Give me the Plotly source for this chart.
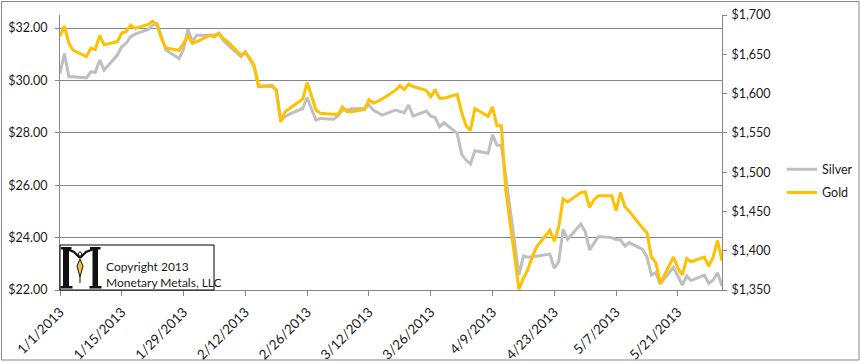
import plotly.graph_objects as go

dates = ["2013-01-01","2013-01-02","2013-01-03","2013-01-04","2013-01-07","2013-01-08","2013-01-09","2013-01-10","2013-01-11",
         "2013-01-14","2013-01-15","2013-01-16","2013-01-17","2013-01-18","2013-01-21","2013-01-22","2013-01-23","2013-01-24","2013-01-25",
         "2013-01-28","2013-01-29","2013-01-30","2013-01-31","2013-02-01","2013-02-04","2013-02-05","2013-02-06","2013-02-07","2013-02-08",
         "2013-02-11","2013-02-12","2013-02-13","2013-02-14","2013-02-15","2013-02-18","2013-02-19","2013-02-20","2013-02-21","2013-02-22",
         "2013-02-25","2013-02-26","2013-02-27","2013-02-28","2013-03-01","2013-03-04","2013-03-05","2013-03-06","2013-03-07","2013-03-08",
         "2013-03-11","2013-03-12","2013-03-13","2013-03-14","2013-03-15","2013-03-18","2013-03-19","2013-03-20","2013-03-21","2013-03-22",
         "2013-03-25","2013-03-26","2013-03-27","2013-03-28","2013-03-29","2013-04-01","2013-04-02","2013-04-03","2013-04-04","2013-04-05",
         "2013-04-08","2013-04-09","2013-04-10","2013-04-11","2013-04-12","2013-04-15","2013-04-16","2013-04-17","2013-04-18","2013-04-19",
         "2013-04-22","2013-04-23","2013-04-24","2013-04-25","2013-04-26","2013-04-29","2013-04-30","2013-05-01","2013-05-02","2013-05-03",
         "2013-05-06","2013-05-07","2013-05-08","2013-05-09","2013-05-10","2013-05-13","2013-05-14","2013-05-15","2013-05-16","2013-05-17",
         "2013-05-20","2013-05-21","2013-05-22","2013-05-23","2013-05-24","2013-05-27","2013-05-28","2013-05-29","2013-05-30","2013-05-31"]

silver = [30.27,31.03,30.14,30.14,30.10,30.33,30.31,30.78,30.40,
          30.97,31.29,31.42,31.67,31.77,31.95,32.11,32.18,31.67,31.16,
          30.84,31.20,31.95,31.48,31.73,31.73,31.73,31.80,31.52,31.36,
          30.91,31.10,30.80,30.52,29.76,29.82,29.63,28.49,28.62,28.72,
          28.93,29.35,28.90,28.49,28.55,28.52,28.65,28.87,28.87,28.92,
          28.93,29.06,28.87,28.77,28.68,28.87,28.81,28.77,29.06,28.64,
          28.83,28.64,28.59,28.23,28.39,27.98,27.19,26.96,26.81,27.32,
          27.22,27.92,27.53,27.53,26.33,22.57,23.30,23.25,23.27,23.30,
          23.37,22.83,23.08,24.32,23.93,24.52,24.23,23.53,23.78,24.04,
          24.00,23.93,23.91,23.68,23.81,23.55,23.27,22.57,22.66,22.23,
          22.87,22.51,22.19,22.53,22.36,22.57,22.25,22.38,22.66,22.15]

gold = [1673,1686,1664,1655,1647,1658,1656,1674,1662,
        1666,1677,1679,1687,1683,1688,1692,1687,1670,1658,
        1655,1664,1674,1664,1666,1674,1672,1677,1670,1666,
        1649,1652,1645,1635,1610,1609,1605,1564,1577,1581,
        1593,1614,1595,1579,1575,1573,1573,1583,1577,1577,
        1580,1592,1588,1590,1593,1604,1610,1605,1612,1609,
        1604,1596,1605,1594,1594,1599,1576,1559,1553,1581,
        1571,1583,1559,1559,1477,1351,1365,1376,1392,1405,
        1426,1412,1430,1466,1462,1474,1475,1455,1465,1470,
        1470,1451,1474,1456,1450,1429,1423,1392,1385,1358,
        1392,1378,1369,1390,1386,1392,1380,1392,1413,1387]

silver_ticks = [22, 24, 26, 28, 30, 32]
gold_ticks = [1350, 1400, 1450, 1500, 1550, 1600, 1650, 1700]

FONT = "Lato"
GRID = "#868686"
TXT = "#1a1a1a"

W, H = 861, 362
L, R, T, B = 60, 139, 15, 72
PW, PH = W - L - R, H - T - B

def px(x):
    return (x - L) / PW

def py(y):
    return (H - B - y) / PH

fig = go.Figure()
fig.add_trace(go.Scatter(x=dates, y=silver, name="Silver", mode="lines",
                         line=dict(color="#BFBFBF", width=3), legendgroup="s"))
fig.add_trace(go.Scatter(x=dates, y=gold, name="Gold", mode="lines", yaxis="y2",
                         line=dict(color="#FFC000", width=3), legendgroup="g"))

shapes = []
# outer chart border
shapes.append(dict(type="rect", xref="paper", yref="paper", x0=px(1.5), x1=px(859), y0=py(360), y1=py(1.5),
                   line=dict(color="#868686", width=1), fillcolor="rgba(0,0,0,0)", layer="below"))
# logo box
shapes.append(dict(type="rect", xref="paper", yref="paper", x0=px(60), x1=px(214), y0=py(290), y1=py(245),
                   line=dict(color="#000000", width=1), fillcolor="#FFFFFF", layer="above"))

def rect(x0, y0, x1, y1, color="#111111"):
    shapes.append(dict(type="rect", xref="paper", yref="paper", x0=px(x0), x1=px(x1), y0=py(y1), y1=py(y0),
                       line=dict(width=0), fillcolor=color, layer="above"))

def path(pts, fill=None, lw=1.5, color="#111111", closed=False):
    d = "M " + " L ".join(f"{px(a):.5f},{py(b):.5f}" for a, b in pts)
    if closed:
        d += " Z"
    shapes.append(dict(type="path", xref="paper", yref="paper", path=d,
                       line=dict(color=color, width=lw),
                       fillcolor=fill if fill else "rgba(0,0,0,0)", layer="above"))

# stylised M logo
rect(63, 249, 69, 287)
rect(61, 247, 71.5, 249.5)
rect(60.5, 286, 72.5, 288.5)
rect(92.5, 249, 98, 287)
rect(90, 247, 100.5, 249.5)
rect(89.5, 286, 101.5, 288.5)
path([(68, 249.5), (74, 252), (78, 256), (80, 258)], lw=2.2)
path([(92.5, 249.5), (86, 252), (82, 256), (80, 258)], lw=2.2)
path([(80, 251.5), (82, 254), (80, 256.5), (78, 254)], closed=True, lw=1)
path([(80, 259), (83, 266), (80, 277), (77, 266)], fill="#F5C342", lw=1, closed=True)
path([(80, 277), (80, 283)], lw=1)

fig.update_layout(
    template="none",
    width=W, height=H,
    margin=dict(l=L, r=R, t=T, b=B, pad=0, autoexpand=False),
    paper_bgcolor="white", plot_bgcolor="white",
    font=dict(family=FONT, size=12, color=TXT),
    showlegend=True,
    legend=dict(x=px(782), y=py(181), xanchor="left", yanchor="middle",
                bgcolor="rgba(0,0,0,0)", borderwidth=0, font=dict(family=FONT, size=12.5, color=TXT),
                traceorder="grouped", tracegroupgap=4, itemwidth=30),
    xaxis=dict(type="date", range=["2013-01-01", "2013-05-31"], automargin=False,
               tick0="2013-01-01", dtick=14 * 86400000, tickformat="%-m/%-d/%Y",
               tickangle=-45, ticks="outside", ticklen=5, tickcolor=GRID, tickwidth=1,
               ticklabelstandoff=3,
               showline=True, linecolor=GRID, linewidth=1, showgrid=False, zeroline=False,
               tickfont=dict(family=FONT, size=13.5, color=TXT)),
    yaxis=dict(range=[22, 32.5], tickvals=silver_ticks, tickformat="$.2f", automargin=False,
               ticks="outside", ticklen=4, tickcolor=GRID, tickwidth=1,
               ticklabelstandoff=5,
               showline=True, linecolor=GRID, linewidth=1,
               showgrid=True, gridcolor=GRID, gridwidth=1, zeroline=False,
               tickfont=dict(family=FONT, size=12.5, color=TXT)),
    yaxis2=dict(range=[1350, 1700], tickvals=gold_ticks, tickformat="$,.0f", automargin=False,
                overlaying="y", side="right", ticks="outside", ticklen=4, tickcolor=GRID, tickwidth=1,
                ticklabelstandoff=2,
                showline=True, linecolor=GRID, linewidth=1, showgrid=False, zeroline=False,
                tickfont=dict(family=FONT, size=12.5, color=TXT)),
    shapes=shapes,
    annotations=[
        dict(text="Copyright 2013", xref="paper", yref="paper", x=px(104), y=py(266),
             xanchor="left", yanchor="middle", showarrow=False,
             font=dict(family=FONT, size=12, color=TXT)),
        dict(text="Monetary Metals, LLC", xref="paper", yref="paper", x=px(104), y=py(282),
             xanchor="left", yanchor="middle", showarrow=False,
             font=dict(family=FONT, size=12, color=TXT)),
    ],
)

fig.write_html("out.html", config={"displayModeBar": False},
               post_script="document.body.style.margin='0px';document.body.style.overflow='hidden';")
